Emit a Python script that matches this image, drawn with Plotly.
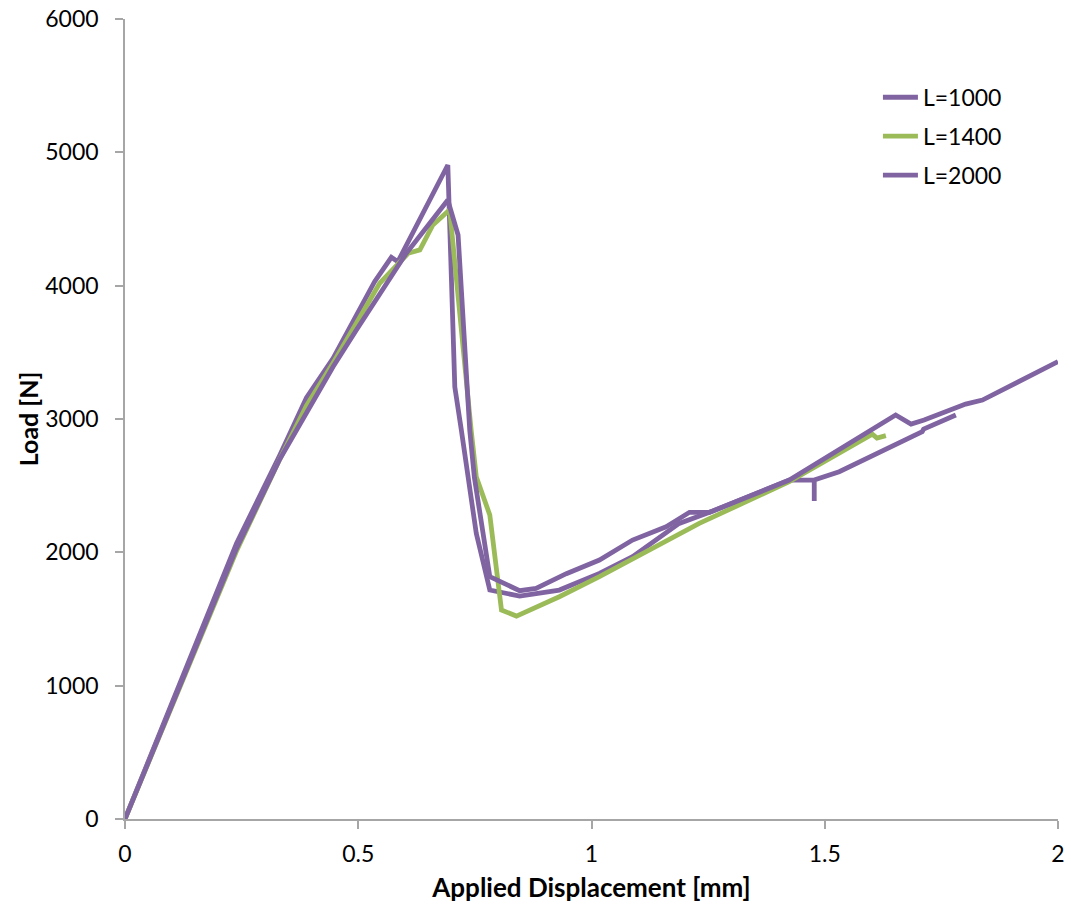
import plotly.graph_objects as go

# ---- data ----
x_1000 = [0, 0.239, 0.332, 0.389, 0.446, 0.483, 0.535, 0.571, 0.585, 0.692,
          0.707, 0.721, 0.753, 0.782, 0.846, 0.931, 1.017, 1.088, 1.188, 1.253,
          1.424, 1.4775, 1.4775, 1.4775, 1.531, 1.709, 1.712, 1.781]
y_1000 = [0, 2067, 2730, 3160, 3455, 3695, 4030, 4213, 4180, 4905,
          3240, 2917, 2142, 1717, 1672, 1717, 1842, 1967, 2217, 2300,
          2542, 2542, 2385, 2542, 2605, 2905, 2925, 3030]

x_1400 = [0, 0.239, 0.332, 0.389, 0.446, 0.546, 0.607, 0.632, 0.660, 0.689,
          0.696, 0.742, 0.753, 0.782, 0.807, 0.839, 0.931, 1.017, 1.124, 1.231,
          1.424, 1.602, 1.612, 1.631]
y_1400 = [0, 2010, 2700, 3100, 3420, 4018, 4243, 4268, 4455, 4543,
          4570, 2917, 2567, 2280, 1567, 1522, 1667, 1817, 2017, 2217,
          2530, 2887, 2857, 2875]

x_2000 = [0, 0.239, 0.332, 0.389, 0.446, 0.496, 0.603, 0.692, 0.714, 0.739,
          0.749, 0.782, 0.846, 0.881, 0.946, 1.017, 1.088, 1.160, 1.210, 1.253,
          1.424, 1.652, 1.685, 1.713, 1.774, 1.802, 1.838, 2.0]
y_2000 = [0, 2030, 2700, 3055, 3392, 3667, 4243, 4642, 4380, 2917,
          2560, 1817, 1712, 1730, 1840, 1942, 2092, 2192, 2300, 2300,
          2542, 3030, 2962, 2992, 3080, 3112, 3142, 3430]

series_names = ["L=1000", "L=1400", "L=2000"]
series_colors = ["#8064A2", "#9BBB59", "#8064A2"]

x_ticks = [0, 0.5, 1, 1.5, 2]
x_ticktext = ["0", "0.5", "1", "1.5", "2"]
y_ticks = [0, 1000, 2000, 3000, 4000, 5000, 6000]

FONT = "Lato"
AXIS_GREY = "#A6A6A6"

fig = go.Figure()
for name, xs, ys, col in zip(series_names, [x_1000, x_1400, x_2000],
                             [y_1000, y_1400, y_2000], series_colors):
    fig.add_trace(go.Scatter(x=xs, y=ys, mode="lines", name=name,
                             legendgroup=name,
                             line=dict(color=col, width=4.8)))

fig.update_layout(
    width=1071, height=913,
    margin=dict(l=125, r=13, t=19, b=94),
    plot_bgcolor="white", paper_bgcolor="white",
    font=dict(family=FONT, size=23, color="black"),
    showlegend=True,
    legend=dict(x=0.807, y=0.929, xanchor="left", yanchor="top",
                bgcolor="rgba(0,0,0,0)", font=dict(size=23),
                tracegroupgap=6, itemwidth=35),
)
fig.update_xaxes(
    range=[0, 2], tickmode="array", tickvals=x_ticks, ticktext=x_ticktext,
    showline=True, linecolor=AXIS_GREY, linewidth=1.5, automargin=False,
    ticks="outside", ticklen=8, tickcolor=AXIS_GREY, tickwidth=1.5,
    showgrid=False, zeroline=False, ticklabelstandoff=6,
    title=dict(text="<b>Applied Displacement [mm]</b>", standoff=12,
               font=dict(size=26)),
)
fig.update_yaxes(
    range=[0, 6000], tickmode="array", tickvals=y_ticks,
    showline=True, linecolor=AXIS_GREY, linewidth=1.5, automargin=False,
    ticks="outside", ticklen=8, tickcolor=AXIS_GREY, tickwidth=1.5,
    showgrid=False, zeroline=False, ticklabelstandoff=12,
    title=dict(text="<b>Load [N]</b>", standoff=0, font=dict(size=25)),
)

fig.write_html("out.html")
